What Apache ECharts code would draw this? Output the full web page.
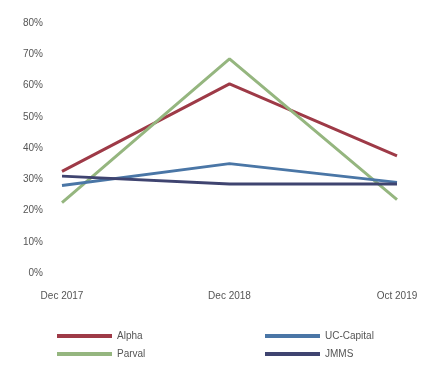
<!DOCTYPE html>
<html>
<head>
<meta charset="utf-8">
<script src="https://cdn.jsdelivr.net/npm/echarts@6/dist/echarts.min.js"></script>
<style>
html,body{margin:0;padding:0;background:#fff;}
#chart{width:434px;height:365px;}
</style>
</head>
<body>
<div id="chart"></div>
<script>
var categories = ['Dec 2017', 'Dec 2018', 'Oct 2019'];
var seriesNames = ['Alpha', 'Parval', 'UC-Capital', 'JMMS'];
var alphaValues = [32.5, 60.5, 37.5];
var parvalValues = [22.5, 68.5, 23.5];
var ucCapitalValues = [28, 35, 29];
var jmmsValues = [31, 28.5, 28.5];
var yTicks = [0, 10, 20, 30, 40, 50, 60, 70, 80];

var colors = {
  'Alpha': '#9e3a47',
  'Parval': '#95b67f',
  'UC-Capital': '#4a76a6',
  'JMMS': '#3f4470'
};
var valuesByName = {
  'Alpha': alphaValues,
  'Parval': parvalValues,
  'UC-Capital': ucCapitalValues,
  'JMMS': jmmsValues
};
// legend placement (left, top) for each entry: two columns, two rows
var legendSpots = {
  'Alpha': [57, 331],
  'Parval': [57, 349],
  'UC-Capital': [265, 331],
  'JMMS': [265, 349]
};

var chart = echarts.init(document.getElementById('chart'), null, {renderer: 'canvas'});
var textStyle = {fontFamily: 'Liberation Sans, Arial, sans-serif', fontSize: 10, color: '#555'};

var option = {
  animation: false,
  backgroundColor: '#fff',
  grid: {left: 62, right: 37, top: 23, bottom: 92, containLabel: false},
  xAxis: {
    type: 'category',
    data: categories,
    boundaryGap: false,
    axisLine: {show: false},
    axisTick: {show: false},
    splitLine: {show: false},
    axisLabel: Object.assign({margin: 18, interval: 0}, textStyle)
  },
  yAxis: {
    type: 'value',
    min: yTicks[0],
    max: yTicks[yTicks.length - 1],
    interval: 10,
    axisLine: {show: false},
    axisTick: {show: false},
    splitLine: {show: false},
    axisLabel: Object.assign({margin: 19, formatter: '{value}%'}, textStyle)
  },
  legend: seriesNames.map(function (name) {
    return {
      data: [name],
      left: legendSpots[name][0],
      top: legendSpots[name][1],
      padding: 0,
      itemWidth: 55,
      itemHeight: 4,
      itemGap: 0,
      icon: 'rect',
      textStyle: textStyle
    };
  }),
  series: seriesNames.map(function (name) {
    return {
      name: name,
      type: 'line',
      data: valuesByName[name],
      symbol: 'none',
      color: colors[name],
      lineStyle: {width: 3, color: colors[name]}
    };
  })
};
chart.setOption(option);
</script>
</body>
</html>
